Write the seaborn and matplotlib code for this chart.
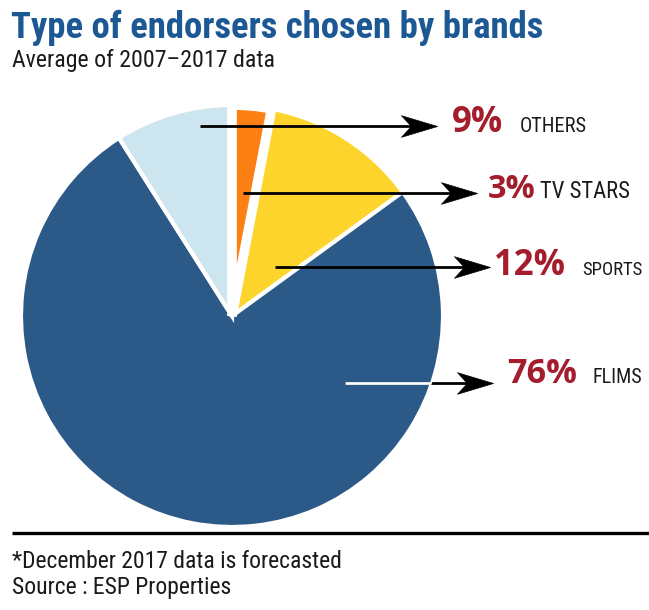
import numpy as np
import matplotlib
matplotlib.use("Agg")
import matplotlib.pyplot as plt
from matplotlib import font_manager
from matplotlib.path import Path
import seaborn as sns

# --- data -------------------------------------------------------------
categories = ["TV STARS", "SPORTS", "FLIMS", "OTHERS"]
shares = [3, 12, 76, 9]
pct_labels = ["3%", "12%", "76%", "9%"]
slice_colors = ["#FC8014", "#FDD42B", "#2B5A89", "#CDE5EF"]

title = "Type of endorsers chosen by brands"
subtitle = "Average of 2007\u20132017 data"
footnote = "*December 2017 data is forecasted"
source = "Source : ESP Properties"

# --- fonts --------------------------------------------------------------
def pick_condensed():
    """Return a sans family that has a condensed / narrow face, if any."""
    preferred = ["Roboto Condensed", "Open Sans Condensed", "Liberation Sans Narrow",
                 "Noto Sans Condensed", "DejaVu Sans", "Noto Sans", "Open Sans",
                 "Roboto", "Inter", "Lato"]
    narrow = set()
    for f in font_manager.fontManager.ttflist:
        s = str(f.stretch).lower()
        if "condensed" in s or "narrow" in f.name.lower() or "condensed" in f.name.lower():
            narrow.add(f.name)
    for fam in preferred:
        if fam in narrow:
            return fam
    return sorted(narrow)[0] if narrow else "DejaVu Sans"


COND = pick_condensed()

sns.set_theme(style="white")
plt.rcParams["font.family"] = [COND, "DejaVu Sans"]
plt.rcParams["font.stretch"] = "condensed"

W, H = 649, 610
fig = plt.figure(figsize=(W / 100, H / 100), dpi=100)
ax = fig.add_axes([0, 0, 1, 1])
fig.patch.set_facecolor("white")


def Y(y_from_top):
    """Convert a distance from the top edge into axis units."""
    return H - y_from_top


fitted = []


def label(x, y, s, width, size, **kw):
    """Place a left/baseline text and remember the width it should span."""
    t = ax.text(x, Y(y), s, fontsize=size, ha="left", va="baseline", **kw)
    fitted.append((t, width))
    return t


# --- pie ----------------------------------------------------------------
center = (232, Y(316))
radius = 211
wedges, _ = ax.pie(
    shares,
    colors=slice_colors,
    startangle=90,
    counterclock=False,
    center=center,
    radius=radius,
    wedgeprops=dict(edgecolor="white", linewidth=3),
)
# the thin slice sits apart from its neighbours with a wider white gap
wedges[0].set_linewidth(7)
wedges[0].set_zorder(wedges[0].get_zorder() + 0.5)

ax.set_xlim(0, W)
ax.set_ylim(0, H)
ax.set_aspect("equal")
ax.axis("off")

# --- leader arrows --------------------------------------------------------
# stealth-style arrow head (tip at +1, notched tail)
head = Path(
    [(1.0, 0.0), (-1.0, 0.6), (-0.45, 0.0), (-1.0, -0.6), (1.0, 0.0)],
    [Path.MOVETO, Path.LINETO, Path.LINETO, Path.LINETO, Path.CLOSEPOLY],
)
head_len = 36  # px

# order: OTHERS, TV STARS, SPORTS, FLIMS (top to bottom)
leader_rows = [3, 0, 1, 2]
starts_x = [200, 243, 275, 345]
tips_x = [437, 477, 490, 493]
rows_y = [126, 193, 267, 383]
pct_x = [452, 488, 494, 507]
pct_w = [52, 48, 72, 70]
name_x = [520, 540, 582, 593]
name_w = [67, 90, 61, 50]
baselines = [132, 198, 275, 383]

for k, idx in enumerate(leader_rows):
    y = Y(rows_y[k])
    ax.plot([starts_x[k], tips_x[k] - 10], [y, y], color="black", lw=2,
            solid_capstyle="butt", zorder=5)
    if categories[idx] == "FLIMS":
        inner, = ax.plot([starts_x[k], tips_x[k] - 10], [y, y], color="white",
                         lw=2, solid_capstyle="butt", zorder=6)
        inner.set_clip_path(wedges[idx])
    ax.plot([tips_x[k] - head_len / 2], [y], marker=head,
            markersize=head_len * 0.72, color="black", mec="black", mew=0.5,
            zorder=7)
    label(pct_x[k], baselines[k], pct_labels[idx], pct_w[k], 25,
          color="#A31D2C", fontweight="bold",
          family=["Open Sans", "DejaVu Sans"], fontstretch="normal")
    label(name_x[k], baselines[k], categories[idx], name_w[k], 21,
          color="#1A1A1A")

# --- headings ---------------------------------------------------------------
label(11, 38, title, 541, 26.5, color="#1C5893", fontweight="bold")
label(12, 67, subtitle, 263, 18, color="#1A1A1A")

# --- footer -----------------------------------------------------------------
ax.plot([12, W], [Y(533), Y(533)], color="black", lw=2.4,
        solid_capstyle="butt")
label(12, 568, footnote, 343, 17, color="#1A1A1A")
label(12, 594, source, 223, 17, color="#1A1A1A")

# shrink any text that runs wider than the span it should occupy
renderer = fig.canvas.get_renderer()
for _ in range(2):
    for t, width in fitted:
        w = t.get_window_extent(renderer).width
        if w > width:
            t.set_fontsize(t.get_fontsize() * width / w)

fig.savefig("out.png", dpi=100, facecolor="white")
